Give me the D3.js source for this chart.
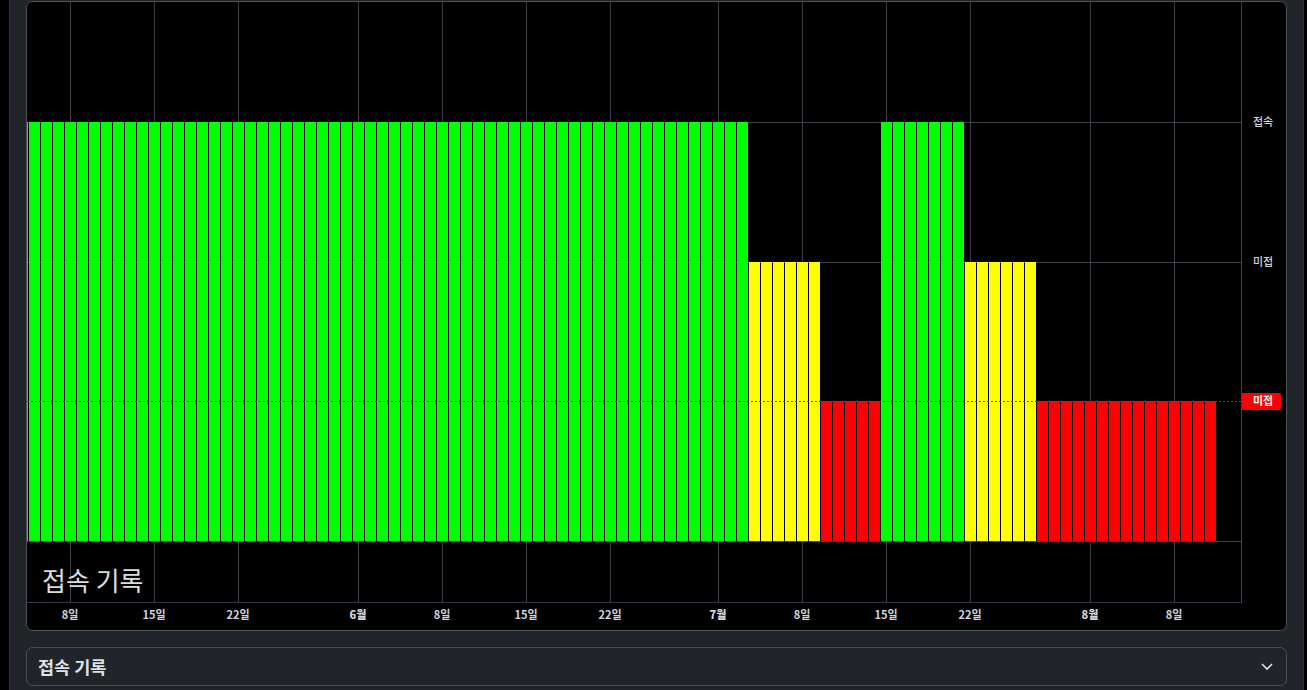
<!DOCTYPE html>
<html><head><meta charset="utf-8">
<script src="https://cdn.jsdelivr.net/npm/d3@7"></script>
<style>
html,body{margin:0;padding:0;width:1307px;height:690px;overflow:hidden;background:#000;}
svg{display:block;}
</style></head>
<body>
<svg id="c" width="1307" height="690"></svg>
<script>
// ---- data ----
const startDate = "2024-05-04";
// 3 = 접속 (green), 2 = 미접 (yellow), 1 = 미접 (red)
const dailyStatus = [
  3,3,3,3,3,3,3,3,3,3,3,3,3,3,3,3,3,3,3,3,3,3,3,3,3,3,3,3, // May 4-31
  3,3,3,3,3,3,3,3,3,3,3,3,3,3,3,3,3,3,3,3,3,3,3,3,3,3,3,3,3,3, // June
  3,3,3, 2,2,2,2,2,2, 1,1,1,1,1, 3,3,3,3,3,3,3, 2,2,2,2,2,2, 1,1,1,1, // July
  1,1,1,1,1,1,1,1,1,1,1 // Aug 1-11
];
const statusColors = {3:"#00ff00", 2:"#ffff00", 1:"#ff0000"};
const yTickValues = [3, 2];
const yTickLabels = ["접속", "미접"];
const lastLabel = "미접";
const xTickDates = ["2024-05-08","2024-05-15","2024-05-22","2024-06-01","2024-06-08","2024-06-15","2024-06-22","2024-07-01","2024-07-08","2024-07-15","2024-07-22","2024-08-01","2024-08-08"];
const xTickLabels = ["8일","15일","22일","6월","8일","15일","22일","7월","8일","15일","22일","8월","8일"];
const xTickMonth = [false,false,false,true,false,false,false,true,false,false,false,true,false];
const title = "접속 기록";

// ---- layout ----
const svg = d3.select("#c");
const F = "'Noto Sans CJK KR','Noto Sans',sans-serif";
const DAY = 86400000;
const parse = s => new Date(s + "T00:00:00Z");
const start = parse(startDate);
const data = dailyStatus.map((v,i)=>({date:new Date(start.getTime()+i*DAY), v}));

const plot = {l:27, r:1241, t:2, b:602};
// page background
svg.append("rect").attr("x",0).attr("y",0).attr("width",1307).attr("height",690).attr("fill","#000");
svg.append("rect").attr("x",9).attr("y",0).attr("width",1295).attr("height",690).attr("fill","#212529");
svg.append("line").attr("x1",9.5).attr("x2",9.5).attr("y1",0).attr("y2",690).attr("stroke","#2e3237");
svg.append("line").attr("x1",1303.5).attr("x2",1303.5).attr("y1",0).attr("y2",690).attr("stroke","#2e3237");

// chart card
svg.append("rect").attr("x",26.5).attr("y",1.5).attr("width",1260).attr("height",629).attr("rx",6)
  .attr("fill","#000").attr("stroke","#495057");

// scales
const x = d3.scaleUtc()
  .domain([new Date(start.getTime()+10*3600000), new Date(start.getTime()+101*DAY+14*3600000)])
  .range([plot.l, plot.r]);
const y = d3.scaleLinear().domain([0,3]).range([541,122]);

const g = svg.append("g");
const clip = svg.append("clipPath").attr("id","pc").append("rect")
  .attr("x",plot.l).attr("y",plot.t).attr("width",plot.r-plot.l).attr("height",plot.b-plot.t);

// vertical grid
const tickDates = xTickDates.map(parse);
g.selectAll("line.vg").data(tickDates).join("line")
  .attr("x1",d=>Math.round(x(d))+0.5).attr("x2",d=>Math.round(x(d))+0.5)
  .attr("y1",plot.t).attr("y2",plot.b).attr("stroke","#3d4048").attr("stroke-width",1);
// horizontal grid
g.selectAll("line.hg").data([0,2,3]).join("line")
  .attr("x1",plot.l).attr("x2",plot.r).attr("y1",d=>Math.round(y(d))+0.5).attr("y2",d=>Math.round(y(d))+0.5)
  .attr("stroke","#3d4048");

// bars
const bw = 12;
g.append("g").attr("clip-path","url(#pc)").selectAll("rect").data(data).join("rect")
  .attr("x",d=>Math.round(x(d.date))-5).attr("width",bw-1)
  .attr("y",d=>Math.round(y(d.v))).attr("height",d=>Math.round(y(0))-Math.round(y(d.v)))
  .attr("fill",d=>statusColors[d.v]);

// last value price line
const last = data[data.length-1];
g.append("line").attr("x1",plot.l).attr("x2",plot.r)
  .attr("y1",Math.round(y(last.v))+0.5).attr("y2",Math.round(y(last.v))+0.5)
  .attr("stroke",statusColors[last.v]).attr("stroke-width",1).attr("stroke-dasharray","2,2");

// axes lines
svg.append("line").attr("x1",plot.l).attr("x2",plot.r+0.5).attr("y1",plot.b+0.5).attr("y2",plot.b+0.5).attr("stroke","#34344c");
svg.append("line").attr("x1",plot.r+0.5).attr("x2",plot.r+0.5).attr("y1",plot.t).attr("y2",plot.b+1).attr("stroke","#3d4048");

// watermark title
svg.append("text").attr("x",42).attr("y",591).attr("font-family",F).attr("font-size",26)
  .attr("fill","#dcdcdc").text(title);

// x tick labels
svg.selectAll("text.xt").data(tickDates).join("text")
  .attr("x",d=>x(d)).attr("y",619).attr("text-anchor","middle")
  .attr("font-family",F).attr("font-size",11)
  .attr("font-weight",(d,i)=>xTickMonth[i]?800:700)
  .attr("fill","#d1d4dc").text((d,i)=>xTickLabels[i]);

// y tick labels
svg.selectAll("text.yt").data(yTickValues).join("text")
  .attr("x",1263).attr("y",d=>y(d)+4).attr("text-anchor","middle")
  .attr("font-family",F).attr("font-size",11).attr("font-weight",500)
  .attr("fill","#d1d4dc").text((d,i)=>yTickLabels[i]);

// last value label
const ly = Math.round(y(last.v));
svg.append("path")
  .attr("d",`M${plot.r+1},${ly-8} H1279 a2,2 0 0 1 2,2 V${ly+7} a2,2 0 0 1 -2,2 H${plot.r+1} Z`)
  .attr("fill",statusColors[last.v]);
svg.append("text").attr("x",1263).attr("y",ly+4).attr("text-anchor","middle")
  .attr("font-family",F).attr("font-size",11).attr("font-weight",700)
  .attr("fill","#fff").text(lastLabel);

// bottom collapsible header
svg.append("rect").attr("x",26.5).attr("y",647.5).attr("width",1260).attr("height",38).attr("rx",6)
  .attr("fill","#212529").attr("stroke","#495057");
svg.append("text").attr("x",38).attr("y",674).attr("font-family",F).attr("font-size",17.5).attr("font-weight",600)
  .attr("fill","#dee2e6").text(title);
svg.append("path").attr("d","M1262,664 l5,5 l5,-5").attr("fill","none").attr("stroke","#dee2e6").attr("stroke-width",1.6);
</script>
</body></html>
